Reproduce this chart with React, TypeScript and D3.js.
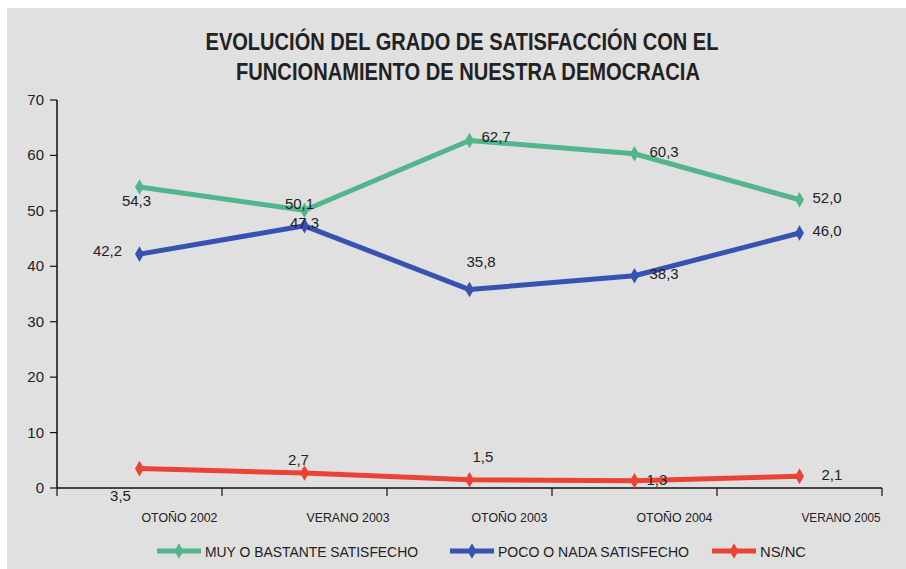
import React from "react";
import * as d3 from "d3";

const categories = ["OTOÑO 2002", "VERANO 2003", "OTOÑO 2003", "OTOÑO 2004", "VERANO 2005"];
const seriesNames = ["MUY O BASTANTE SATISFECHO", "POCO O NADA SATISFECHO", "NS/NC"];
const satisfied = [54.3, 50.1, 62.7, 60.3, 52.0];
const notSatisfied = [42.2, 47.3, 35.8, 38.3, 46.0];
const nsnc = [3.5, 2.7, 1.5, 1.3, 2.1];
const yTicks = [0, 10, 20, 30, 40, 50, 60, 70];
const titleLines = ["EVOLUCIÓN DEL GRADO DE SATISFACCIÓN CON EL", "FUNCIONAMIENTO DE NUESTRA DEMOCRACIA"];

const colors = ["#52b58c", "#3752b0", "#ea4234"];
// label offsets (dx, dy, anchor) per series per point
const labelOffsets: [number, number, string][][] = [
  [[-3, 19, "middle"], [-5, -1, "middle"], [12, 2, "start"], [15, 3, "start"], [13, 3, "start"]],
  [[-32, 2, "middle"], [0, 2, "middle"], [-3, -23, "start"], [15, 3, "start"], [13, 3, "start"]],
  [[-19, 32, "middle"], [-6, -8, "middle"], [3, -18, "start"], [12, 4, "start"], [22, 4, "start"]],
];
const titleWidths = [513, 464];
const xLabelWidths = [76, 83, 76, 76, 79];
const legendWidths = [213, 191, 46];

const FONT = "'Liberation Sans', Arial, sans-serif";

export default function App() {
  const W = 906, H = 569;
  const x0 = 57, x1 = 882, yTop = 100, yBot = 488;
  const band = d3.scaleBand<string>().domain(categories).range([x0, x1]).padding(0);
  const y = d3.scaleLinear().domain([0, 70]).range([yBot, yTop]);
  const cx = (c: string) => (band(c) as number) + band.bandwidth() / 2;
  const series = [satisfied, notSatisfied, nsnc];
  const line = d3.line<number>().x((_, i) => cx(categories[i])).y((v) => y(v));
  const diamond = d3.symbol().type(d3.symbolDiamond).size(70)() as string;
  const legendX = [157, 450, 712];

  return (
    <svg width={W} height={H} style={{ position: "absolute", left: 0, top: 0 }} fontFamily={FONT}>
      <rect x={0} y={0} width={W} height={H} fill="#ffffff" />
      <rect x={7} y={8} width={W - 7} height={H - 8} fill="#e0e0e0" />
      {titleLines.map((t, i) => (
        <text
          key={i}
          x={462 - titleWidths[i] / 2 + (i === 1 ? 6 : 0)}
          y={50 + i * 30}
          fontSize={23}
          fontWeight="bold"
          fill="#222"
          textLength={titleWidths[i]}
          lengthAdjust="spacingAndGlyphs"
        >
          {t}
        </text>
      ))}
      {/* y axis */}
      <line x1={x0} x2={x0} y1={yTop} y2={yBot} stroke="#111" strokeWidth={1.5} />
      {yTicks.map((t) => (
        <g key={t}>
          <line x1={x0 - 7} x2={x0} y1={y(t)} y2={y(t)} stroke="#111" strokeWidth={1.2} />
          <text x={44} y={y(t) + 5} textAnchor="end" fontSize={15} fill="#222">
            {t}
          </text>
        </g>
      ))}
      {/* x axis */}
      <line x1={x0} x2={x1} y1={yBot} y2={yBot} stroke="#111" strokeWidth={1.5} />
      {[...categories.map((c) => band(c) as number), x1].map((bx, i) => (
        <line key={i} x1={bx} x2={bx} y1={yBot} y2={yBot + 8} stroke="#111" strokeWidth={1.2} />
      ))}
      {categories.map((c, i) => (
        <text
          key={c}
          x={cx(c) + 2}
          y={522}
          fontSize={13}
          fill="#222"
          textLength={xLabelWidths[i]}
          lengthAdjust="spacingAndGlyphs"
        >
          {c}
        </text>
      ))}
      {/* series */}
      {series.map((vals, si) => (
        <g key={si}>
          <path d={line(vals) as string} fill="none" stroke={colors[si]} strokeWidth={5} strokeLinejoin="round" />
          {vals.map((v, i) => (
            <path key={i} d={diamond} transform={`translate(${cx(categories[i])},${y(v)})`} fill={colors[si]} />
          ))}
          {vals.map((v, i) => {
            const [dx, dy, anchor] = labelOffsets[si][i];
            return (
              <text
                key={"l" + i}
                x={cx(categories[i]) + dx}
                y={y(v) + dy}
                textAnchor={anchor as any}
                fontSize={15}
                fill="#222"
              >
                {d3.format(".1f")(v).replace(".", ",")}
              </text>
            );
          })}
        </g>
      ))}
      {/* legend */}
      {seriesNames.map((n, i) => (
        <g key={n}>
          <line x1={legendX[i]} x2={legendX[i] + 44} y1={551} y2={551} stroke={colors[i]} strokeWidth={5} />
          <path d={diamond} transform={`translate(${legendX[i] + 22},551)`} fill={colors[i]} />
          <text
            x={legendX[i] + 48}
            y={556.5}
            fontSize={15}
            fill="#222"
            textLength={legendWidths[i]}
            lengthAdjust="spacingAndGlyphs"
          >
            {n}
          </text>
        </g>
      ))}
    </svg>
  );
}
